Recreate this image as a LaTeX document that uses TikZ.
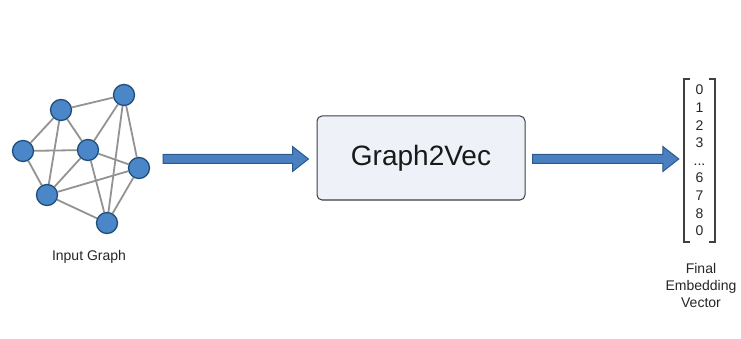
\documentclass[tikz,border=0pt]{standalone}
\usepackage{fontspec}
\setmainfont{Liberation Sans}
\usetikzlibrary{calc,backgrounds}
\definecolor{nodeblue}{HTML}{4A86C8}
\definecolor{nodeedge}{HTML}{1F4E79}
\definecolor{edgegray}{HTML}{939393}
\definecolor{arrowblue}{HTML}{4A7FC0}
\definecolor{arrowedge}{HTML}{2A5A8E}
\definecolor{boxfill}{HTML}{EEF2F8}
\definecolor{boxedge}{HTML}{3A3F47}
\newcommand{\blockarrow}[2]{%
  \draw[bigarrow] ($(#1)+(0,-4.5)$) -- ($(#2)+(-16,-4.5)$) -- ($(#2)+(-16,-12.5)$) -- (#2)
    -- ($(#2)+(-16,12.5)$) -- ($(#2)+(-16,4.5)$) -- ($(#1)+(0,4.5)$) -- cycle;}
\begin{document}
\begin{tikzpicture}[x=1pt,y=-1pt,
  gnode/.style={circle,fill=nodeblue,draw=nodeedge,line width=1.3pt,minimum size=21pt,inner sep=0pt},
  gedge/.style={draw=edgegray,line width=1.8pt},
  bigarrow/.style={fill=arrowblue,draw=arrowedge,line width=1pt,line join=miter},
  procbox/.style={draw=boxedge,fill=boxfill,rounded corners=5pt,line width=1pt,minimum width=208pt,minimum height=84pt,inner sep=0pt,font=\fontsize{28}{32}\selectfont,text=black!90},
  lbl/.style={font=\fontsize{14}{17}\selectfont,align=center,text=black!85,inner sep=0pt},
  vecbox/.style={minimum width=31pt,minimum height=163pt,inner sep=0pt,align=center,text=black!85,font=\fontsize{14}{17.6}\selectfont},
  bracket/.style={draw=black!75,line width=1.8pt,line cap=butt,line join=miter}
]
\useasboundingbox (0,0) rectangle (741,339);
% graph nodes
\node[gnode] (A) at (61,110) {};
\node[gnode] (B) at (124,95) {};
\node[gnode] (C) at (23,151) {};
\node[gnode] (D) at (88,150) {};
\node[gnode] (E) at (139,168) {};
\node[gnode] (F) at (47,195) {};
\node[gnode] (G) at (107,223) {};
\begin{scope}[on background layer]
  \fill[white] (0,0) rectangle (741,339);
  \foreach \u/\v in {A/B,A/C,A/D,A/F,B/D,B/E,B/G,C/D,C/F,D/E,D/F,D/G,F/E,F/G,E/G}
    \draw[gedge] (\u) -- (\v);
\end{scope}
\node[lbl] (inlbl) at (89,257) {Input Graph};
% process box
\node[procbox] (box) at (421,158) {Graph2Vec};
% vector
\node[vecbox] (vec) at (699.5,160.5) {0\\1\\2\\3\\...\\6\\7\\8\\0};
\draw[bracket] ($(vec.north west)+(6,0)$) -- (vec.north west) -- (vec.south west) -- ($(vec.south west)+(6,0)$);
\draw[bracket] ($(vec.north east)+(-6,0)$) -- (vec.north east) -- (vec.south east) -- ($(vec.south east)+(-6,0)$);
\node[lbl] (veclbl) at (701,285) {Final\\Embedding\\Vector};
% arrows
\coordinate (s1) at (163,159);
\coordinate (e1) at ($(box.west)+(-8,1)$);
\coordinate (s2) at ($(box.east)+(7,1)$);
\coordinate (e2) at ($(vec.west)+(-5,-1.5)$);
\blockarrow{s1}{e1}
\blockarrow{s2}{e2}
\end{tikzpicture}
\end{document}
